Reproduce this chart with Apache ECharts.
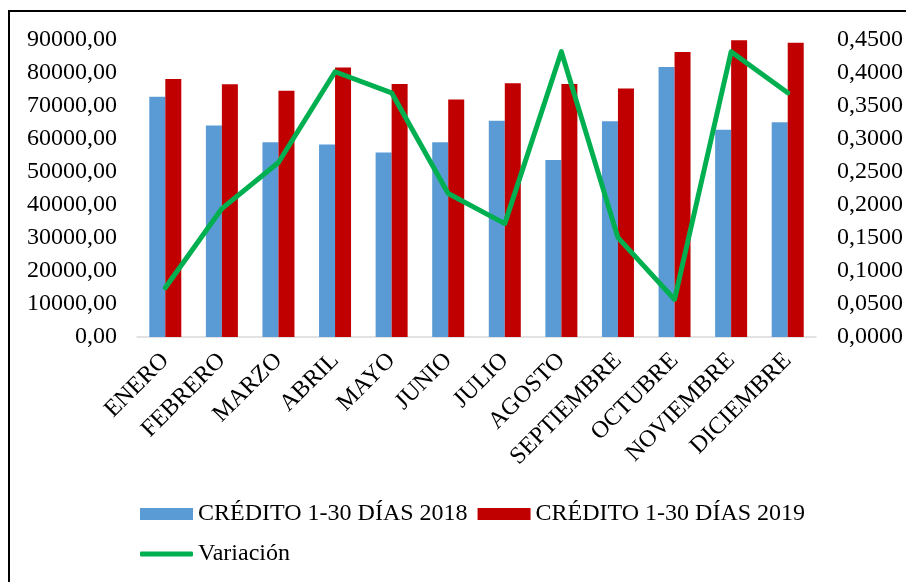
<!DOCTYPE html>
<html>
<head>
<meta charset="utf-8">
<script src="https://cdn.jsdelivr.net/npm/echarts@6/dist/echarts.min.js"></script>
<style>
html,body{margin:0;padding:0;background:#fff;}
#chart{width:906px;height:582px;}
</style>
</head>
<body>
<div id="chart"></div>
<script>
const categories = ['ENERO','FEBRERO','MARZO','ABRIL','MAYO','JUNIO','JULIO','AGOSTO','SEPTIEMBRE','OCTUBRE','NOVIEMBRE','DICIEMBRE'];
const credito2018 = [72800, 64100, 59000, 58300, 55900, 59000, 65500, 53600, 65400, 81800, 62800, 65100];
const credito2019 = [78200, 76600, 74600, 81700, 76700, 72000, 76900, 76700, 75300, 86400, 89900, 89200];
const variacion = [0.0747, 0.1946, 0.2644, 0.4019, 0.3700, 0.2173, 0.1718, 0.4323, 0.1506, 0.0569, 0.4323, 0.3700];
const leftTicks = {min: 0, max: 90000, interval: 10000};
const rightTicks = {min: 0, max: 0.45, interval: 0.05};

const FONT = '"Liberation Serif", "Times New Roman", serif';
const chart = echarts.init(document.getElementById('chart'), null, {renderer: 'canvas'});
chart.setOption({
  animation: false,
  backgroundColor: '#fff',
  textStyle: {fontFamily: FONT, color: '#000'},
  graphic: [{
    type: 'rect',
    shape: {x: 9, y: 11, width: 1200, height: 1200},
    style: {fill: 'none', stroke: '#000', lineWidth: 2},
    silent: true
  }],
  grid: {left: 137, right: 90, top: 40, bottom: 245, containLabel: false},
  legend: [{
    data: ['CRÉDITO 1-30 DÍAS 2018', 'CRÉDITO 1-30 DÍAS 2019'],
    left: 135, top: 497,
    itemWidth: 53, itemHeight: 12, itemGap: 10,
    icon: 'rect',
    textStyle: {fontFamily: FONT, fontSize: 24, color: '#000'}
  }, {
    data: [{name: 'Variación', icon: 'roundRect'}],
    left: 135, top: 537,
    itemWidth: 53, itemHeight: 5,
    textStyle: {fontFamily: FONT, fontSize: 24, color: '#000'}
  }],
  xAxis: {
    type: 'category',
    data: categories,
    axisLine: {show: true, lineStyle: {color: '#d9d9d9', width: 1.5}},
    axisTick: {show: false},
    axisLabel: {rotate: 45, interval: 0, margin: 20, fontFamily: FONT, fontSize: 24, color: '#000'}
  },
  yAxis: [{
    type: 'value',
    min: leftTicks.min, max: leftTicks.max, interval: leftTicks.interval,
    splitLine: {show: false},
    axisLine: {show: false},
    axisTick: {show: false},
    axisLabel: {margin: 20, fontFamily: FONT, fontSize: 24, color: '#000',
      formatter: v => v.toFixed(2).replace('.', ',')}
  }, {
    type: 'value',
    position: 'right',
    min: rightTicks.min, max: rightTicks.max, interval: rightTicks.interval,
    splitLine: {show: false},
    axisLine: {show: false},
    axisTick: {show: false},
    axisLabel: {margin: 21, fontFamily: FONT, fontSize: 24, color: '#000',
      formatter: v => v.toFixed(4).replace('.', ',')}
  }],
  series: [{
    name: 'CRÉDITO 1-30 DÍAS 2018',
    type: 'bar',
    data: credito2018,
    barWidth: 16,
    barGap: '0%',
    itemStyle: {color: '#5B9BD5'}
  }, {
    name: 'CRÉDITO 1-30 DÍAS 2019',
    type: 'bar',
    data: credito2019,
    barWidth: 16,
    barGap: '0%',
    itemStyle: {color: '#C00000'}
  }, {
    name: 'Variación',
    type: 'line',
    yAxisIndex: 1,
    data: variacion,
    symbol: 'none',
    lineStyle: {color: '#00B050', width: 5, cap: 'round', join: 'round'},
    itemStyle: {color: '#00B050'}
  }]
});
</script>
</body>
</html>
